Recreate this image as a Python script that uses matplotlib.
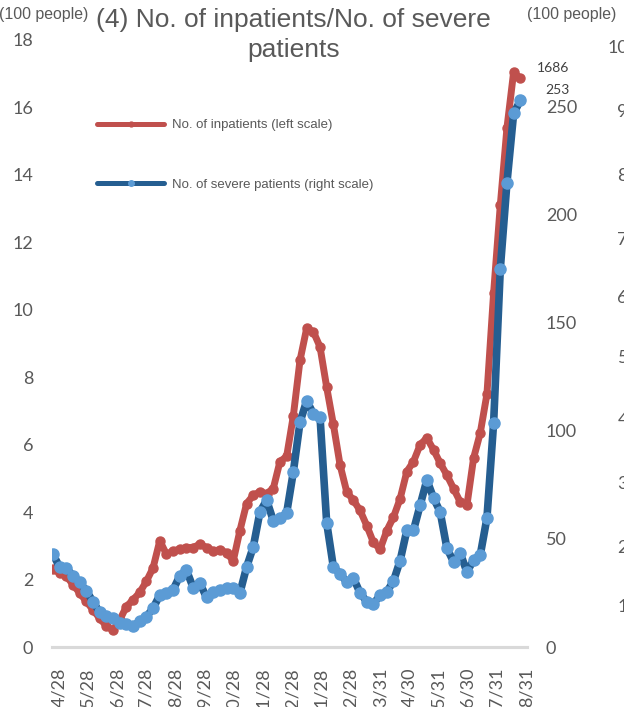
import numpy as np
import matplotlib
matplotlib.use('Agg')
import matplotlib.pyplot as plt
from matplotlib.lines import Line2D
from matplotlib.transforms import ScaledTranslation

# 週ごとのデータ (2020/4/28 ~ 2021/8/31)
start = np.datetime64('2020-04-28')
dates = start + np.arange(71) * np.timedelta64(7, 'D')

# 入院患者数 (百人, 左軸)
inpatients = [2.3, 2.2, 2.1, 1.85, 1.6, 1.35, 1.1, 0.85, 0.62, 0.5,
              0.8, 1.2, 1.4, 1.62, 1.95, 2.35, 3.15, 2.75, 2.85, 2.9,
              2.95, 2.95, 3.05, 2.95, 2.85, 2.88, 2.8, 2.55, 3.45, 4.25,
              4.5, 4.6, 4.55, 4.7, 5.5, 5.65, 6.85, 8.5, 9.45, 9.35,
              8.9, 7.7, 6.6, 5.4, 4.6, 4.35, 4.05, 3.6, 3.1, 2.9,
              3.45, 3.85, 4.4, 5.2, 5.5, 6.0, 6.2, 5.85, 5.45, 5.1,
              4.7, 4.3, 4.2, 5.6, 6.35, 7.5, 10.5, 13.1, 15.4, 17.05,
              16.86]

# 重症患者数 (右軸)
severe = [43, 37, 36.5, 33, 30, 26, 21, 16, 14.5, 13.5,
          11, 10.5, 9.5, 12, 14, 18, 24, 25, 26.5, 33,
          35.5, 27.5, 29.5, 23, 25.5, 26.5, 27.3, 27.3, 25, 37,
          46.3, 62.5, 68, 58.5, 59.5, 62, 81, 104, 114, 108,
          106.5, 57.5, 37, 34, 30, 32, 25, 21, 20, 24,
          25.5, 30.5, 40, 54, 54, 65.7, 77.3, 69, 62.5, 45.8,
          39.4, 43.5, 34.7, 40.3, 42.6, 59.7, 103.7, 175, 215, 247,
          253]

tick_dates = np.array(['2020-04-28', '2020-05-28', '2020-06-28', '2020-07-28',
                       '2020-08-28', '2020-09-28', '2020-10-28', '2020-11-28',
                       '2020-12-28', '2021-01-28', '2021-02-28', '2021-03-31',
                       '2021-04-30', '2021-05-31', '2021-06-30', '2021-07-31',
                       '2021-08-31'], dtype='datetime64[D]')
tick_labels = ['4/28', '5/28', '6/28', '7/28', '8/28', '9/28', '10/28', '11/28',
               '12/28', '1/28', '2/28', '3/31', '4/30', '5/31', '6/30', '7/31', '8/31']

# 隣のグラフの軸ラベル (右端で切れている)
next_labels = ['10', '9', '8', '7', '6', '5', '4', '3', '2', '1']
next_label_y = [48, 112, 176, 240, 298, 358, 420, 484, 548, 607]

RED = '#C0504D'
DARK_BLUE = '#255E91'
LIGHT_BLUE = '#5B9BD5'
GRAY = '#595959'

W, H = 624, 707
fig = plt.figure(figsize=(W / 100, H / 100), dpi=100)
ax = fig.add_axes([52 / W, (H - 647) / H, (527 - 52) / W, (647 - 40) / H])
ax2 = ax.twinx()

ax.plot(dates, inpatients, color=RED, lw=5, marker='o', ms=6.5,
        solid_joinstyle='round', solid_capstyle='round')
ax2.plot(dates, severe, color=DARK_BLUE, lw=5.5, marker='o', ms=8,
         markerfacecolor=LIGHT_BLUE, markeredgecolor=LIGHT_BLUE,
         solid_joinstyle='round', solid_capstyle='round')

ax.set_xlim(start - np.timedelta64(1, 'D'), start + np.timedelta64(497, 'D'))
ax.set_ylim(0, 18)
ax2.set_ylim(0, 281)
ax.set_yticks(range(0, 19, 2))
ax2.set_yticks(range(0, 251, 50))
ax.set_xticks(tick_dates)
ax.set_xticklabels(tick_labels, rotation=90, va='top', ha='center')

for a in (ax, ax2):
    for s in ('top', 'left', 'right'):
        a.spines[s].set_visible(False)
    a.spines['bottom'].set_color('#D9D9D9')
    a.spines['bottom'].set_linewidth(2.2)
    a.tick_params(length=0, labelsize=13, labelcolor=GRAY, pad=13.5)
    for lab in a.get_yticklabels():
        lab.set_fontfamily('Lato')
ax.tick_params(axis='x', pad=15)
for lab in ax.get_xticklabels():
    lab.set_fontfamily('Lato')
    lab.set_transform(lab.get_transform() + ScaledTranslation(6 / 100, 0, fig.dpi_scale_trans))

# データラベル
ax.annotate('1686', xy=(dates[-1], inpatients[-1]), xytext=(12, 7.5),
            textcoords='offset points', ha='left', va='center',
            fontsize=10, family='Lato', color='#404040')
ax2.annotate('253', xy=(dates[-1], severe[-1]), xytext=(18, 7.5),
             textcoords='offset points', ha='left', va='center',
             fontsize=10, family='Lato', color='#404040')

# タイトル・単位
fig.text(293.5 / W, 1 - 20 / H, '(4) No. of inpatients/No. of severe', ha='center', va='center',
         fontsize=19, family='Liberation Sans', color=GRAY)
fig.text(293.5 / W, 1 - 50 / H, 'patients', ha='center', va='center',
         fontsize=19, family='Liberation Sans', color=GRAY)
fig.text(-1 / W, 1 - 15 / H, '(100 people)', ha='left', va='center',
         fontsize=11.4, family='Liberation Sans', color=GRAY)
fig.text(527 / W, 1 - 15 / H, '(100 people)', ha='left', va='center',
         fontsize=11.4, family='Liberation Sans', color=GRAY)
for lab, y in zip(next_labels, next_label_y):
    fig.text(628 / W, 1 - y / H, lab, ha='right', va='center',
             fontsize=13, family='Lato', color=GRAY)

# 凡例
handles = [Line2D([], [], color=RED, lw=3.6, marker='o', ms=3.5, solid_capstyle='round'),
           Line2D([], [], color=DARK_BLUE, lw=3.6, marker='o', ms=4,
                  markerfacecolor=LIGHT_BLUE, markeredgecolor=LIGHT_BLUE, solid_capstyle='round')]
ax2.legend(handles, ['No. of inpatients (left scale)', 'No. of severe patients (right scale)'],
           loc='upper left', bbox_to_anchor=(97 / W, 1 - 119 / H), bbox_transform=fig.transFigure,
           frameon=False, prop={'family': 'Liberation Sans', 'size': 9.5}, labelcolor=GRAY,
           handlelength=5.1, handletextpad=0.55, labelspacing=3.6, borderpad=0,
           borderaxespad=0, numpoints=1)

fig.savefig('out.png', dpi=100)
